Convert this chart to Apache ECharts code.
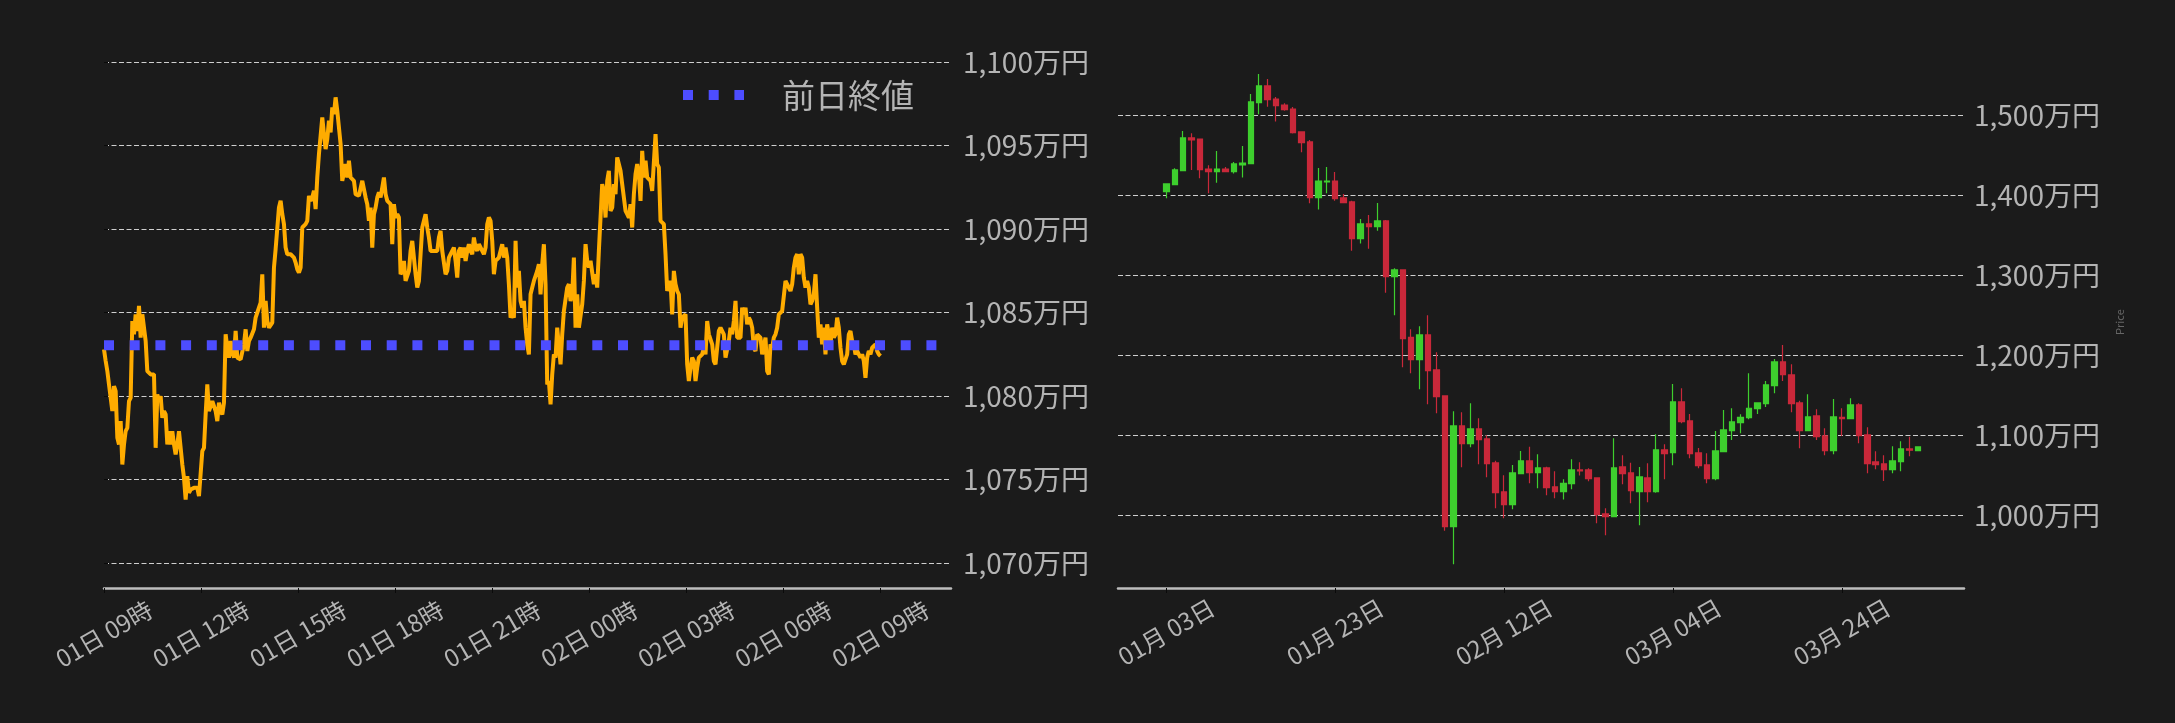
<!DOCTYPE html>
<html><head><meta charset="utf-8">
<script src="https://cdn.jsdelivr.net/npm/echarts@6/dist/echarts.min.js"></script>
<style>html,body{margin:0;padding:0;background:#1b1b1b;}#chart{width:2175px;height:723px;}</style>
</head><body><div id="chart"></div>
<script>
// ---- intraday (left) ----
const timeLabels = ['01日 09時','01日 12時','01日 15時','01日 18時','01日 21時','02日 00時','02日 03時','02日 06時','02日 09時'];
const hourStep = 3;
const spanHours = 24;
const prevCloseName = '前日終値';
const prevClose = 1083.05;
const prices = [
1082.8,1082.1,1081.5,1080.7,1080.6,1079.1,1080.6,1080.3,1077.5,1077.1,
1078.5,1075.9,1077.1,1077.9,1078.1,1079.7,1079.9,1084.5,1083.7,1084.9,
1083.9,1085.4,1083.5,1084.9,1084.8,1083.3,1081.5,1081.4,1081.3,1081.4,
1081.3,1076.9,1080.1,1079.7,1080.0,1078.7,1079.1,1078.9,1077.1,1077.9,
1077.1,1077.9,1077.1,1076.5,1077.1,1077.9,1077.8,1075.9,1075.1,1073.8,
1075.2,1074.2,1074.4,1074.5,1074.5,1074.5,1074.5,1074.0,1074.0,1076.7,
1076.9,1078.9,1080.7,1079.1,1079.4,1079.7,1079.4,1079.1,1078.5,1079.6,
1079.1,1078.9,1079.6,1083.7,1082.9,1082.3,1083.3,1082.6,1082.3,1083.9,
1082.3,1082.3,1082.2,1082.2,1083.1,1084.0,1082.7,1083.3,1083.5,1083.5,
1084.0,1084.7,1085.0,1085.1,1085.6,1087.3,1084.1,1085.7,1084.5,1084.1,
1084.2,1084.4,1087.7,1088.8,1088.9,1091.3,1091.7,1090.9,1090.3,1088.9,
1088.5,1088.4,1088.5,1088.6,1088.3,1088.0,1087.6,1087.4,1087.7,1090.1,
1090.2,1090.3,1090.5,1092.0,1091.7,1091.9,1092.3,1091.2,1093.1,1094.5,
1094.6,1096.7,1095.7,1094.8,1095.4,1096.5,1095.8,1097.3,1096.9,
1097.9,1097.1,1097.1,1095.1,1092.9,1092.9,1093.9,1093.1,1094.1,1093.1,
1093.1,1092.9,1092.1,1092.0,1092.0,1092.0,1092.9,1092.9,1091.9,1091.5,
1090.5,1091.3,1088.9,1090.9,1091.3,1091.9,1092.2,1091.9,1091.9,1093.1,
1092.1,1091.7,1091.7,1091.5,1089.1,1091.5,1090.7,1090.9,1090.7,1087.3,
1087.5,1088.1,1086.9,1086.9,1087.5,1088.7,1089.3,1089.3,1087.3,1086.5,
1086.9,1088.5,1090.1,1090.5,1090.9,1090.1,1089.5,1088.7,1088.7,1088.7,
1088.7,1088.7,1089.5,1089.9,1088.7,1088.7,1087.3,1087.5,1088.3,1088.5,
1088.7,1088.9,1088.1,1087.1,1088.7,1088.9,1088.3,1088.9,1088.1,1088.7,
1089.1,1088.7,1088.5,1089.5,1088.9,1088.7,1089.1,1089.1,1088.7,1088.5,
1088.9,1090.3,1090.7,1090.5,1089.3,1087.3,1088.1,1088.1,1088.3,1088.3,
1089.1,1088.3,1088.9,1088.3,1086.7,1084.7,1084.9,1084.7,1089.3,1086.5,
1087.5,1085.7,1085.3,1085.7,1084.1,1083.1,1082.5,1086.1,1086.5,1086.9,
1086.9,1087.5,1087.9,1086.1,1087.9,1089.1,1086.7,1080.7,1080.9,1079.5,
1081.3,1082.5,1082.3,1084.1,1084.1,1081.9,1083.7,1085.1,
1085.1,1086.5,1086.7,1085.7,1086.1,1088.3,1084.1,1086.1,1084.1,1084.1,
1085.5,1086.9,1089.1,1088.1,1087.7,1088.1,1088.1,1086.7,1087.3,1086.5,
1088.7,1088.7,1092.7,1092.3,1090.7,1092.9,1093.5,1091.1,1091.3,1092.7,
1092.1,1094.3,1094.3,1093.5,1092.7,1092.7,1091.1,1090.9,1090.7,1091.5,
1090.1,1092.1,1093.3,1093.9,1093.3,1091.7,1094.7,1093.1,1094.1,1093.1,
1093.1,1092.9,1092.3,1092.3,1095.7,1093.9,1093.7,1090.5,1090.5,1090.3,
1088.5,1086.3,1086.3,1086.9,1084.9,1087.5,1086.7,1086.3,1086.1,1084.1,
1084.7,1084.7,1084.9,1081.9,1080.9,1081.7,1082.3,1082.1,1080.9,1081.7,
1082.3,1082.3,1082.5,1082.9,1082.5,1084.5,1083.7,1083.7,1083.1,1082.1,
1081.9,1081.9,1083.9,1084.1,1084.1,1083.7,1082.3,1082.3,1083.3,1084.1,
1083.7,1084.5,1085.7,1083.5,1083.5,1083.5,1085.3,1084.9,1085.3,1084.3,
1084.7,1084.5,1084.1,1082.9,1082.7,1083.7,1083.7,1083.5,1082.5,1082.5,
1083.5,1081.5,1081.3,1083.1,1082.9,1083.5,1083.7,1084.1,1084.9,1084.9,
1085.1,1085.1,1086.9,1086.7,1086.5,1086.3,1086.7,1087.7,
1088.3,1088.5,1087.3,1088.5,1088.3,1087.1,1086.5,1086.9,1086.5,1085.5,
1085.7,1086.1,1087.3,1085.3,1083.5,1084.3,1083.1,1084.1,1082.5,1084.3,
1083.7,1083.1,1084.1,1083.5,1083.7,1084.7,1084.1,1082.9,1082.1,1081.9,
1081.9,1082.5,1083.7,1083.9,1083.3,1083.1,1082.5,1082.7,1082.5,1082.3,
1082.5,1082.1,1081.1,1082.3,1082.7,1082.5,1082.9,1082.9,1083.1,1082.7,
1082.5,1082.4
];

// ---- daily candles (right), day 0 = 01月 03日 ----
const dayLabels = ['01月 03日','01月 23日','02月 12日','03月 04日','03月 24日'];
const dayLabelStep = 20;
const opens = [
1404.6,1413.3,1430.8,1471.7,1470.4,1432.9,1429.6,1432.9,1429.6,1437.9,
1439.6,1515.8,1536.7,1520.4,1512.9,1507.9,1479.2,1466.7,1397.1,1416.7,
1417.9,1396.7,1391.7,1345.8,1364.2,1360.8,1367.9,1298.3,1306.7,1222.5,
1194.6,1225.4,1181.7,1149.2,985.8,1111.7,1089.6,1107.9,1095.4,1065.4,
1029.2,1013.3,1052.1,1067.9,1053.3,1059.2,1035.4,1029.6,1039.6,1056.7,
1056.7,1046.7,1001.7,998.3,1060.4,1052.9,1029.6,1046.7,1029.6,1081.7,
1078.3,1141.7,1117.9,1077.9,1062.9,1045.8,1079.6,1105.8,1115.8,1122.1,
1133.3,1139.6,1162.1,1191.7,1175.4,1140.4,1105.8,1124.2,1099.2,1080.8,
1122.5,1120.8,1137.9,1100.4,1066.7,1064.2,1057.1,1067.1,1082.9,1080.8];
const closes = [
1414.2,1431.7,1471.7,1469.2,1432.1,1429.6,1432.9,1429.6,1439.2,1440.4,
1516.7,1536.7,1519.6,1512.1,1507.1,1478.3,1465.8,1397.1,1417.9,1417.9,
1395.8,1390.8,1345.8,1364.2,1360.8,1367.9,1298.3,1306.7,1220.8,1194.6,
1225.4,1180.8,1148.3,985.8,1111.7,1089.6,1107.9,1094.6,1064.6,1028.3,
1013.3,1052.9,1067.9,1053.3,1059.2,1034.6,1029.6,1040.0,1056.7,1055.4,
1045.8,1000.8,998.3,1059.2,1052.1,1030.8,1047.9,1029.6,1081.7,1077.1,
1141.7,1117.1,1077.1,1062.1,1045.8,1080.4,1106.7,1116.7,1122.5,1133.8,
1140.4,1162.9,1191.7,1175.8,1139.6,1105.8,1122.9,1098.3,1080.8,1122.9,
1120.8,1137.9,1099.6,1064.6,1063.3,1057.1,1067.9,1082.9,1081.3,1085.4];
const lows = [
1396.3,1413.3,1430.8,1431.7,1421.3,1402.5,1415.8,1429.6,1427.1,1422.1,
1439.6,1501.3,1510.8,1492.1,1505.8,1477.1,1453.8,1390.0,1382.1,1402.5,
1393.3,1390.8,1330.8,1339.6,1333.3,1355.8,1278.3,1250.0,1185.0,1177.5,
1157.5,1138.8,1127.5,980.8,938.8,1060.0,1085.0,1063.8,1047.5,1008.8,
996.3,1007.5,1051.3,1040.0,1033.8,1025.0,1021.3,1019.6,1032.5,1049.6,
1042.5,990.0,975.0,998.3,1038.8,1015.0,987.5,1016.3,1028.3,1045.0,
1062.5,1115.0,1071.3,1058.8,1040.0,1043.8,1079.6,1094.2,1102.5,1120.0,
1126.7,1135.4,1152.5,1167.9,1128.8,1083.8,1105.8,1094.2,1075.0,1076.3,
1099.2,1120.0,1090.0,1052.5,1057.5,1042.9,1052.5,1055.0,1073.8,1080.8];
const highs = [
1414.2,1433.8,1480.4,1477.5,1470.4,1437.5,1455.4,1435.4,1441.7,1461.7,
1526.7,1551.7,1545.4,1522.9,1515.0,1510.4,1479.2,1469.2,1434.2,1435.4,
1429.2,1401.7,1393.3,1370.4,1375.4,1390.4,1369.2,1308.8,1306.7,1232.5,
1236.3,1250.0,1203.8,1150.0,1130.0,1128.8,1140.0,1121.3,1100.0,1068.3,
1050.0,1062.9,1080.4,1085.8,1076.3,1060.8,1055.0,1045.0,1070.0,1066.3,
1058.8,1046.7,1008.8,1096.3,1075.0,1065.8,1060.4,1065.0,1101.3,1088.8,
1164.2,1158.8,1126.7,1084.2,1077.5,1105.4,1131.7,1133.8,1126.3,1177.5,
1140.4,1167.9,1195.4,1212.9,1188.8,1143.3,1151.3,1132.5,1108.8,1145.4,
1133.8,1146.3,1140.0,1110.0,1080.0,1075.0,1086.3,1092.5,1098.3,1085.4];

// ---- build ----
const leftXMax = 26.18;
const lineData = prices.map((p, i) => [i * spanHours / (prices.length - 1), p]);
const prevData = [[0, prevClose], [leftXMax, prevClose]];
const hourTicks = timeLabels.map((_, i) => i * hourStep);
const dayTicks = dayLabels.map((_, i) => i * dayLabelStep);
const candleData = opens.map((o, i) => [i, o, closes[i], lows[i], highs[i]]);

const FONT = '"Noto Sans CJK JP", "Noto Sans", sans-serif';
const LABEL = '#b4b4b4';
const BLUE = '#4d4dff';
const yFmt = v => Math.round(v).toLocaleString('en-US') + '万円';
const gridStyle = {color: '#cfcfcf', width: 1, type: [5, 2.5]};
const xAxisLine = {show: true, lineStyle: {color: '#bdbdbd', width: 2.5}};
const tick = {show: true, length: 5, lineStyle: {color: '#0a0a0a', width: 1}};

const chart = echarts.init(document.getElementById('chart'));
chart.setOption({
  backgroundColor: '#1b1b1b',
  animation: false,
  textStyle: {fontFamily: FONT},
  grid: [
    {left: 104, right: 1224, top: 62.3, bottom: 135},
    {left: 1118, right: 211, top: 56.1, bottom: 135}
  ],
  legend: {
    data: [prevCloseName], left: 678, top: 75, padding: 0,
    itemWidth: 61, itemHeight: 14,
    lineStyle: {width: 10, type: [10, 15.7], color: BLUE},
    itemStyle: {opacity: 0},
    textStyle: {color: LABEL, fontSize: 33, fontFamily: FONT, lineHeight: 40, padding: [0, 0, 0, 33]}
  },
  xAxis: [
    {type: 'value', gridIndex: 0, min: 0, max: leftXMax, interval: hourStep,
     axisLine: xAxisLine, axisTick: Object.assign({customValues: hourTicks}, tick),
     axisLabel: {customValues: hourTicks, rotate: 30, align: 'center', verticalAlign: 'middle',
       margin: 46, color: LABEL, fontSize: 24, fontFamily: FONT,
       formatter: v => timeLabels[Math.round(v / hourStep)] || ''},
     splitLine: {show: false}},
    {type: 'value', gridIndex: 1, min: -5.72, max: 94.45,
     axisLine: xAxisLine, axisTick: Object.assign({customValues: dayTicks}, tick),
     axisLabel: {customValues: dayTicks, rotate: 30, align: 'center', verticalAlign: 'middle',
       margin: 44, color: LABEL, fontSize: 24, fontFamily: FONT,
       formatter: v => dayLabels[Math.round(v / dayLabelStep)] || ''},
     splitLine: {show: false}}
  ],
  yAxis: [
    {type: 'value', gridIndex: 0, position: 'right', min: 1068.5, max: 1100, minInterval: 5, maxInterval: 5,
     axisLine: {show: false}, axisTick: {show: true, length: 4, lineStyle: {color: '#0a0a0a'}},
     axisLabel: {margin: 12, color: LABEL, fontSize: 28, fontFamily: FONT, formatter: yFmt, showMinLabel: false},
     splitLine: {show: true, showMinLine: false, showMaxLine: true, lineStyle: gridStyle}},
    {type: 'value', gridIndex: 1, position: 'right', min: 909.1, max: 1574, minInterval: 100, maxInterval: 100,
     name: 'Price', nameLocation: 'middle', nameRotate: 90, nameGap: 150,
     nameTextStyle: {color: '#666666', fontSize: 11, fontFamily: FONT},
     axisLine: {show: false}, axisTick: {show: true, length: 4, lineStyle: {color: '#0a0a0a'}},
     axisLabel: {margin: 10, color: LABEL, fontSize: 28, fontFamily: FONT, formatter: yFmt,
       showMinLabel: false, showMaxLabel: false},
     splitLine: {show: true, showMinLine: false, showMaxLine: false, lineStyle: gridStyle}}
  ],
  series: [
    {name: 'price', type: 'line', xAxisIndex: 0, yAxisIndex: 0, data: lineData, symbol: 'none',
     lineStyle: {color: '#ffac00', width: 4}, z: 2},
    {name: prevCloseName, type: 'line', xAxisIndex: 0, yAxisIndex: 0, data: prevData, symbol: 'none',
     lineStyle: {color: BLUE, width: 10, type: [10, 15.7]}, itemStyle: {color: BLUE}, z: 3},
    {name: 'daily', type: 'candlestick', xAxisIndex: 1, yAxisIndex: 1, data: candleData, barWidth: 6,
     itemStyle: {color: '#3ecf2e', color0: '#c9283a', borderColor: '#3ecf2e', borderColor0: '#c9283a', borderWidth: 1.2}}
  ]
});
</script></body></html>
